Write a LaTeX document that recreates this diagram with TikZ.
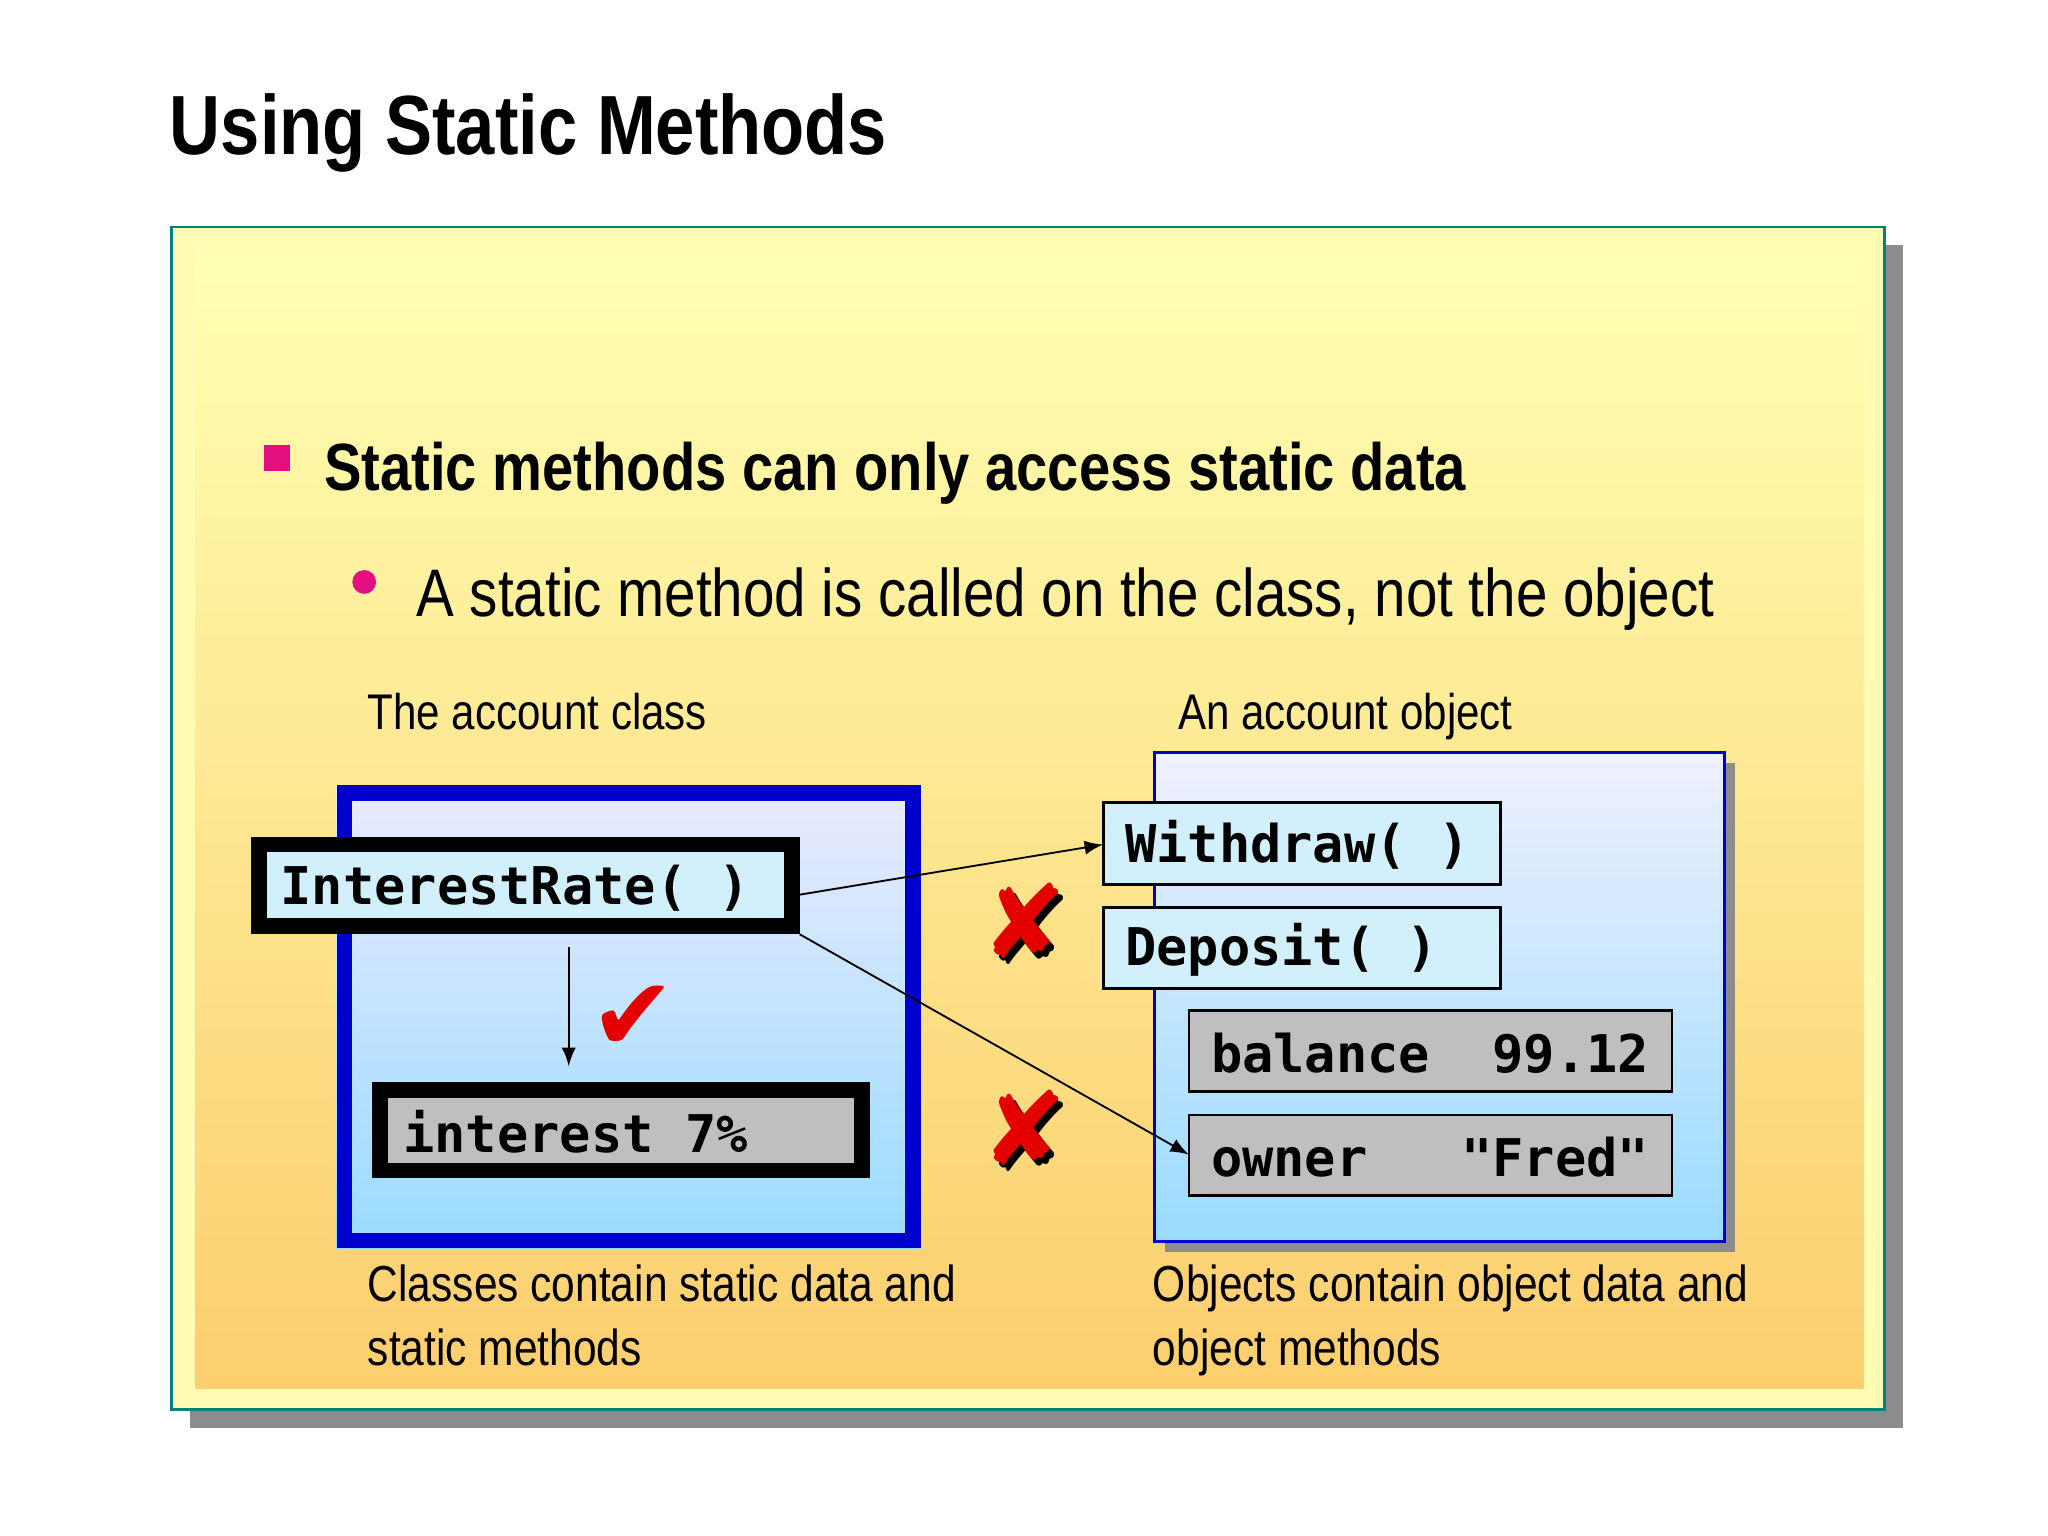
\documentclass[tikz,border=0pt]{standalone}
\usepackage{fontspec}
\setmainfont{Liberation Sans}[FakeStretch=0.84]
\setmonofont{DejaVu Sans Mono}
\newfontfamily\symf{DejaVu Sans}
\begin{document}
\begin{tikzpicture}[x=0.01cm,y=-0.01cm,
  mono/.style={font=\ttfamily\bfseries\fontsize{11.2}{13}\selectfont,anchor=west,inner sep=0},
  lbl/.style={font=\fontsize{10.8}{14}\selectfont,anchor=base west,inner sep=0},
  captext/.style={font=\fontsize{10.9}{13.7}\selectfont,align=left,anchor=north west,inner sep=0},
  cyanbox/.style={draw=black,line width=0.6pt,fill=cyan!18},
  graybox/.style={draw=black,line width=0.6pt,fill=black!25},
  arr/.style={-latex,line width=0.4pt},
  xmark/.style={font=\symf\fontsize{22}{22}\selectfont,text=red!90!black,inner sep=0}]
\useasboundingbox (0,0) rectangle (1552,1164);
\fill[white] (0,0) rectangle (1552,1164);
\node[anchor=base west,inner sep=0,font=\bfseries\fontsize{18.1}{24}\selectfont] (title) at (128,117) {Using Static Methods};
% panel
\fill[black!45] (144,186) rectangle (1442,1082);
\fill[yellow!30] (130,172) rectangle (1428,1068);
\shade[top color=yellow!30!white, bottom color={rgb,255:red,252;green,206;blue,110}] (148,190) rectangle (1412,1052);
\draw[teal,line width=0.6pt] (130,172) rectangle (1428,1068);
% bullets
\fill[magenta!80!purple] (200,337) rectangle (220,357);
\node[anchor=base west,inner sep=0,font=\bfseries\fontsize{14.4}{18}\selectfont] (b1) at (245,372) {Static methods can only access static data};
\fill[magenta!80!purple] (276,441) circle (9);
\node[anchor=base west,inner sep=0,font=\fontsize{14.5}{18}\selectfont] (b2) at (315,467) {A static method is called on the class, not the object};
\node[lbl] (l1) at (278,553) {The account class};
\node[lbl] (l2) at (892,553) {An account object};
% class box
\shade[top color=blue!8!white,bottom color=blue!35!cyan!40] (255,595) rectangle (698,946);
\draw[blue!80!black,line width=3.4pt] (261,601) rectangle (692,940);
\draw[black,line width=3.4pt,fill=cyan!18] (196,640) rectangle (600,702);
\coordinate (irR) at (606,678);
\coordinate (irBR) at (606,708);
\coordinate (irB) at (431,718);
\node[mono] (irt) at (212,673) {InterestRate( )};
\draw[black,line width=3.4pt,fill=black!25] (288,826) rectangle (653,887);
\coordinate (inT) at (431,808);
\node[mono] (int) at (305,858) {interest 7\%};
\draw[arr] (irB) -- (inT);
\node[xmark] (chk) at (480,772) {✔};
% object box
\fill[black!45] (883,578) rectangle (1315,949);
\shade[top color=blue!6!white,bottom color=blue!35!cyan!40] (875,570) rectangle (1307,941);
\draw[blue!80!black,line width=0.6pt] (875,570) rectangle (1307,941);
\draw[cyanbox] (836,608) rectangle (1137,670);
\node[mono] (wd) at (852,640) {Withdraw( )};
\coordinate (wdL) at (836,640);
\draw[cyanbox] (836,688) rectangle (1137,749);
\node[mono] (dp) at (852,720) {Deposit( )};
\draw[graybox] (901,766) rectangle (1267,827);
\node[mono] (bal) at (917,798) {balance\ \ 99.12};
\draw[graybox] (901,845) rectangle (1267,906);
\node[mono] (own) at (917,877) {owner\ \ \ "Fred"};
\coordinate (owL) at (901,875);
\draw[arr] (irR) -- (wdL);
\draw[arr] (irBR) -- (owL);
\node[xmark,text=black] (x1s) at (780,702) {✘};
\node[xmark] (x1) at (776,698) {✘};
\node[xmark,text=black] (x2s) at (780,859) {✘};
\node[xmark] (x2) at (776,855) {✘};
\node[captext] (c1) at (278,958) {Classes contain static data and\\static methods};
\node[captext] (c2) at (873,958) {Objects contain object data and\\object methods};
\end{tikzpicture}
\end{document}
